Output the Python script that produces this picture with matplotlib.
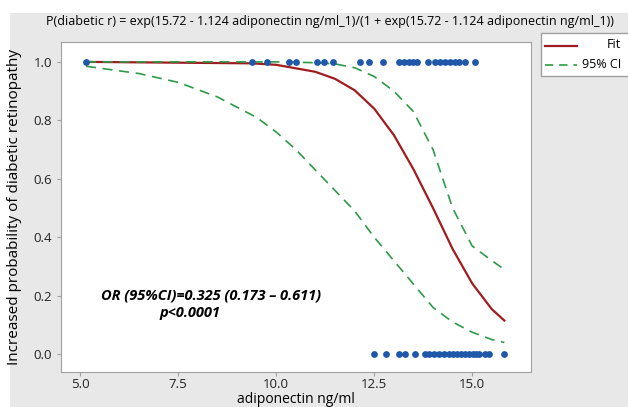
import matplotlib.pyplot as plt
from matplotlib.patches import Rectangle
from matplotlib.lines import Line2D

# observed cases (y = 1) and non-cases (y = 0)
x_event = [5.15, 9.38, 9.77, 10.33, 10.51, 11.05, 11.23, 11.44, 12.13, 12.38,
           12.72, 13.13, 13.26, 13.38, 13.49, 13.59, 13.87, 14.05, 14.18, 14.31,
           14.44, 14.56, 14.67, 14.82, 15.08]
x_nonevent = [12.49, 12.79, 13.13, 13.28, 13.54, 13.79, 13.90, 14.03, 14.15, 14.28,
              14.41, 14.52, 14.62, 14.72, 14.82, 14.92, 15.02, 15.10, 15.18, 15.33,
              15.44, 15.82]

# fitted curve and 95% CI
fit_x = [5.15, 9.38, 10.0, 11.0, 11.5, 12.0, 12.5, 13.0, 13.5, 14.0, 14.5, 15.0, 15.5, 15.82]
fit_p = [1.00, 0.995, 0.99, 0.966, 0.942, 0.903, 0.84, 0.75, 0.633, 0.50, 0.36, 0.242, 0.154, 0.115]

ci_x = [5.15, 6.5, 7.5, 8.5, 9.5, 10.0, 10.5, 11.0, 11.5, 12.0, 12.5, 13.0, 13.5,
        14.0, 14.5, 15.0, 15.5, 15.82]
ci_low = [0.985, 0.96, 0.93, 0.88, 0.81, 0.76, 0.70, 0.63, 0.56, 0.49, 0.40, 0.32,
          0.24, 0.16, 0.11, 0.075, 0.05, 0.04]
ci_up = [1.0, 1.0, 1.0, 1.0, 1.0, 1.0, 0.999, 0.997, 0.993, 0.98, 0.95, 0.90,
         0.83, 0.70, 0.50, 0.37, 0.32, 0.29]

xticks = [5.0, 7.5, 10.0, 12.5, 15.0]
yticks = [0.0, 0.2, 0.4, 0.6, 0.8, 1.0]

plt.rcParams['font.family'] = ['Open Sans', 'DejaVu Sans']

W, H = 628, 407
fig = plt.figure(figsize=(W / 100, H / 100), dpi=100)
fig.patch.set_facecolor('white')
# grey minitab-style canvas
fig.patches.append(Rectangle((10 / W, 0), 1, 1 - 13 / H, transform=fig.transFigure,
                             facecolor='#e8e8e8', edgecolor='none', zorder=-10))

ax = fig.add_axes([61 / W, 1 - 372 / H, 470 / W, 330 / H])
ax.set_facecolor('white')

red = '#a01c1f'
green = '#2e9a48'
blue = '#1f58a8'
dash = (0, (6, 4))

ax.plot(fit_x, fit_p, color=red, lw=1.6, zorder=2)
ax.plot(ci_x, ci_low, color=green, lw=1.2, ls=dash, zorder=2)
ax.plot(ci_x, ci_up, color=green, lw=1.2, ls=dash, zorder=2)
ax.scatter(x_event, [1] * len(x_event), s=24, color=blue, zorder=3, linewidths=0)
ax.scatter(x_nonevent, [0] * len(x_nonevent), s=24, color=blue, zorder=3, linewidths=0)

ax.set_xlim(4.51, 16.5)
ax.set_ylim(-0.061, 1.068)
ax.set_xticks(xticks)
ax.set_xticklabels([f'{t:.1f}' for t in xticks])
ax.set_yticks(yticks)
ax.set_yticklabels([f'{t:.1f}' for t in yticks])
ax.tick_params(colors='#a0a0a0', labelcolor='#222222', labelsize=9.5, length=3)
ax.tick_params(axis='x', pad=1.5)
for s in ax.spines.values():
    s.set_color('#a0a0a0')

ax.set_ylabel('Increased probability of diabetic retinopathy', fontsize=11, labelpad=8)
fig.text(296 / W, 0, 'adiponectin ng/ml', ha='center', va='bottom', fontsize=10)

fig.text(330 / W, 1 - 22 / H,
         'P(diabetic r) = exp(15.72 - 1.124 adiponectin ng/ml_1)/(1 + exp(15.72 - 1.124 adiponectin ng/ml_1))',
         ha='center', va='center', fontsize=9)

ax.text(0.32, 0.233, 'OR (95%CI)=0.325 (0.173 \u2013 0.611)', transform=ax.transAxes,
        fontsize=10.5, fontweight='bold', style='italic', ha='center', va='center')
ax.text(0.275, 0.179, 'p<0.0001', transform=ax.transAxes,
        fontsize=10.5, fontweight='bold', style='italic', ha='center', va='center')

# legend box, runs off the right edge like the original
fig.patches.append(Rectangle((541 / W, 1 - 76 / H), 100 / W, 43 / H, transform=fig.transFigure,
                             facecolor='white', edgecolor='#a0a0a0', lw=1.0, zorder=5))
fig.add_artist(Line2D([545 / W, 577 / W], [1 - 46 / H] * 2, color=red, lw=1.6, zorder=6))
fig.add_artist(Line2D([545 / W, 577 / W], [1 - 65 / H] * 2, color=green, lw=1.2,
                      ls=(0, (5, 3.5)), zorder=6))
fig.text(621 / W, 1 - 45 / H, 'Fit', ha='right', va='center', fontsize=9, zorder=7)
fig.text(621 / W, 1 - 64 / H, '95% CI', ha='right', va='center', fontsize=9, zorder=7)

fig.savefig('out.png', dpi=100)
